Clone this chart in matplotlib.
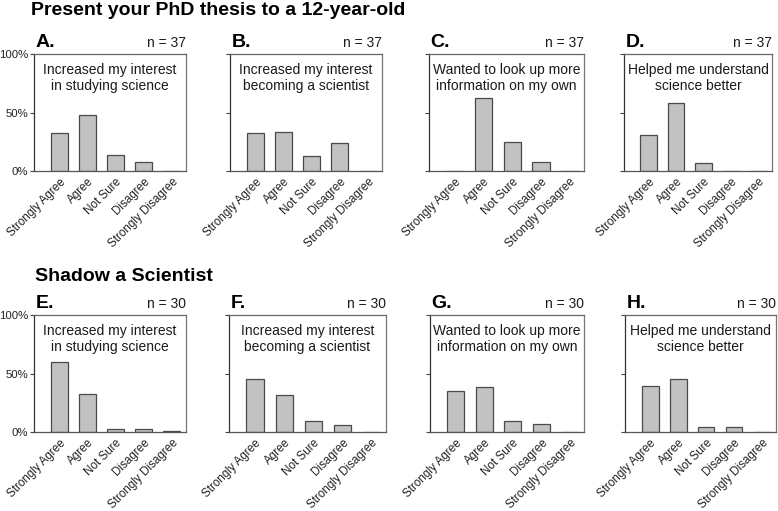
import matplotlib
matplotlib.use("Agg")
import matplotlib.pyplot as plt
import numpy as np

plt.rcParams['font.family'] = ['Liberation Sans', 'DejaVu Sans']

categories = ["Strongly Agree", "Agree", "Not Sure", "Disagree", "Strongly Disagree"]

row_titles = ["Present your PhD thesis to a 12-year-old", "Shadow a Scientist"]
panel_letters = [["A.", "B.", "C.", "D."], ["E.", "F.", "G.", "H."]]
panel_n = [37, 30]
statements = ["Increased my interest\nin studying science",
              "Increased my interest\nbecoming a scientist",
              "Wanted to look up more\ninformation on my own",
              "Helped me understand\nscience better"]

vals_A = [32.7, 48.0, 13.4, 7.5, 0.3]
vals_B = [32.2, 33.0, 12.8, 23.6, 0.3]
vals_C = [0.0, 62.0, 24.8, 7.7, 0.3]
vals_D = [30.5, 57.8, 6.6, 0.3, 0.3]
vals_E = [59.7, 32.8, 2.9, 2.9, 0.8]
vals_F = [45.7, 31.7, 9.7, 6.3, 0.3]
vals_G = [34.9, 38.6, 9.4, 6.6, 0.3]
vals_H = [39.1, 45.7, 4.0, 4.0, 0.3]
values = [[vals_A, vals_B, vals_C, vals_D], [vals_E, vals_F, vals_G, vals_H]]

W, H = 778, 511
fig = plt.figure(figsize=(W / 100, H / 100), dpi=100)

# pixel boxes (left, right) per row, and (top, bottom)
x_edges = [[(34, 186), (230, 382), (429, 584), (624, 772)],
           [(34, 186), (229, 386), (430, 584), (625, 776)]]
y_edges = [(54, 171), (315, 432)]
title_y = [15, 281]
title_x = [31, 35]

x = np.arange(len(categories))
fs = 8.4
fs_text = 10.0
for r in range(2):
    fig.text(title_x[r] / W, 1 - title_y[r] / H, row_titles[r], fontsize=14,
             fontweight='bold', ha='left', va='baseline')
    top, bot = y_edges[r]
    for c in range(4):
        l, rr = x_edges[r][c]
        ax = fig.add_axes([l / W, 1 - bot / H, (rr - l) / W, (bot - top) / H])
        ax.bar(x, values[r][c], width=0.6, color='#c2c2c2', edgecolor='#4a4a4a',
               linewidth=0.9)
        ax.set_xlim(-0.9, 4.5)
        ax.set_ylim(0, 100)
        ax.set_yticks([0, 50, 100])
        if c == 0:
            ax.set_yticklabels(["0%", "50%", "100%"], fontsize=8.2, color='#222222')
        else:
            ax.set_yticklabels([])
        ax.tick_params(axis='y', length=3, width=0.8, color='#444444', pad=1)
        ax.set_xticks(x)
        ax.set_xticklabels(categories, rotation=45, ha='right',
                           rotation_mode='anchor', fontsize=fs, color='#222222')
        ax.tick_params(axis='x', length=0, pad=3.5)
        ax.spines['left'].set_color('#333333')
        ax.spines['top'].set_color('#666666')
        ax.spines['right'].set_color('#777777')
        ax.spines['bottom'].set_color('#555555')
        for s in ax.spines.values():
            s.set_linewidth(0.9)
        ax.text(0.5, 0.925, statements[c], transform=ax.transAxes, ha='center',
                va='top', fontsize=fs_text, color='#1a1a1a', linespacing=1.2)
        ax.text(0.01, 1.06, panel_letters[r][c], transform=ax.transAxes,
                ha='left', va='baseline', fontsize=14, fontweight='bold')
        ax.text(1.0, 1.06, f"n = {panel_n[r]}", transform=ax.transAxes,
                ha='right', va='baseline', fontsize=fs_text, color='#1a1a1a')

fig.savefig("out.png", dpi=100)
